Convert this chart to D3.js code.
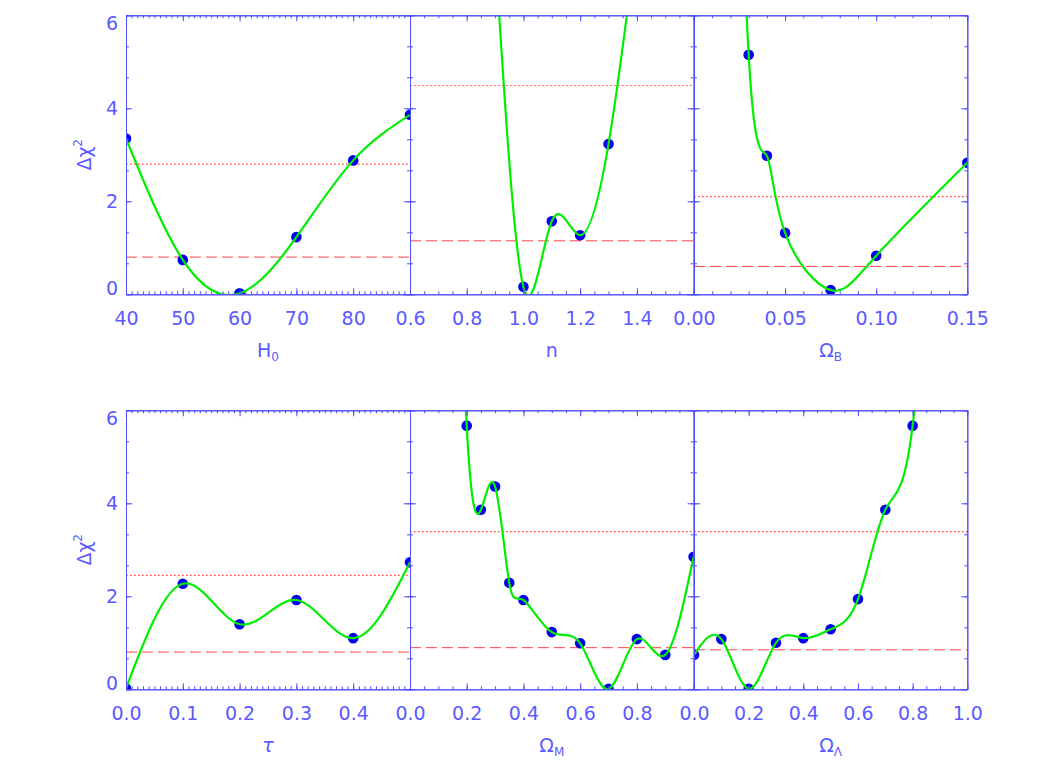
<!DOCTYPE html>
<html>
<head>
<meta charset="utf-8">
<script src="https://cdn.jsdelivr.net/npm/d3@7"></script>
<style>
  html, body { margin: 0; padding: 0; background: #fff; }
  svg { display: block; }
  text { font-family: "DejaVu Sans", sans-serif; }
</style>
</head>
<body>
<svg id="chart" width="1052" height="775"></svg>
<script>
// ---------------- data ----------------
// top row: H0, n, Omega_B
const h0X = [40, 50, 60, 70, 80, 90];
const h0Y = [3.35, 0.74, 0.02, 1.23, 2.88, 3.86];
const nX = [0.9, 1.0, 1.1, 1.2, 1.3, 1.4];
const nY = [7.4, 0.16, 1.57, 1.27, 3.23, 7.7];
const obX = [0.02, 0.03, 0.04, 0.05, 0.075, 0.10, 0.15];
const obY = [18, 5.15, 2.98, 1.32, 0.09, 0.83, 2.83];
// bottom row: tau, Omega_M, Omega_Lambda
const tauX = [0.0, 0.1, 0.2, 0.3, 0.4, 0.5];
const tauY = [0.02, 2.27, 1.40, 1.92, 1.10, 2.73];
const omX = [0.15, 0.2, 0.25, 0.3, 0.35, 0.4, 0.5, 0.6, 0.7, 0.8, 0.9, 1.0];
const omY = [15, 5.67, 3.86, 4.36, 2.29, 1.92, 1.23, 0.99, 0.01, 1.08, 0.74, 2.85];
const olX = [0.0, 0.1, 0.2, 0.3, 0.4, 0.5, 0.6, 0.7, 0.8, 0.9];
const olY = [0.74, 1.08, 0.01, 1.00, 1.10, 1.29, 1.94, 3.86, 5.67, 14];

// confidence levels (dotted = upper, dashed = lower)
const dottedLevels = [2.80, 4.49, 2.10, 2.45, 3.39, 3.39];
const dashedLevels = [0.80, 1.15, 0.60, 0.80, 0.895, 0.85];

// axes
const xDomains = [[40, 90], [0.6, 1.6], [0, 0.15], [0, 0.5], [0, 1], [0, 1]];
const xMajorSteps = [10, 0.2, 0.05, 0.1, 0.2, 0.2];
const xMinorSteps = [1, 0.05, 0.01, 0.01, 0.05, 0.05];
const xFormats = ["d", ".1f", ".2f", ".1f", ".1f", ".1f"];
const xTitles = [["H", "0"], ["n", ""], ["\u03A9", "B"], ["\u03C4", ""], ["\u03A9", "M"], ["\u03A9", "\u039B"]];
const yDomain = [0, 6];
const yMajorTicks = [0, 2, 4, 6];
const yMinorStep = 2 / 3;
const yTitle = ["\u0394\u03C7", "2"];

const seriesX = [h0X, nX, obX, tauX, omX, olX];
const seriesY = [h0Y, nY, obY, tauY, omY, olY];

// ---------------- layout ----------------
const rowTop = [15.3, 410.3];
const rowBottom = [294.3, 689.3];
const colLeft = [126, 410, 694];
const colRight = [410, 693.6, 967.3];

const AXIS = "#4d4dff";
const TEXT = "#5a5aff";

const svg = d3.select("#chart");

function steps(d0, d1, step) {
  const n = Math.round((d1 - d0) / step);
  return d3.range(0, n + 1).map(i => +(d0 + i * step).toFixed(6));
}

for (let p = 0; p < 6; p++) {
  const row = Math.floor(p / 3), col = p % 3;
  const x0 = colLeft[col], x1 = colRight[col];
  const yT = rowTop[row], yB = rowBottom[row];
  const x = d3.scaleLinear().domain(xDomains[p]).range([x0, x1]);
  const y = d3.scaleLinear().domain(yDomain).range([yB, yT]);

  const g = svg.append("g");
  const clipId = "clip" + p;
  svg.append("clipPath").attr("id", clipId).append("rect")
    .attr("x", x0).attr("y", yT).attr("width", x1 - x0).attr("height", yB - yT);

  // reference levels
  const plot = g.append("g").attr("clip-path", `url(#${clipId})`);
  plot.append("line")
    .attr("x1", x0).attr("x2", x1)
    .attr("y1", y(dottedLevels[p])).attr("y2", y(dottedLevels[p]))
    .attr("stroke", "#ff4545").attr("stroke-width", 1.1)
    .attr("stroke-dasharray", "1.6,2.4");
  plot.append("line")
    .attr("x1", x0).attr("x2", x1)
    .attr("y1", y(dashedLevels[p])).attr("y2", y(dashedLevels[p]))
    .attr("stroke", "#ff4040").attr("stroke-width", 1)
    .attr("stroke-dasharray", "11,5");

  const pts = seriesX[p].map((v, i) => [v, seriesY[p][i]]);

  // points
  plot.selectAll("circle").data(pts).enter().append("circle")
    .attr("cx", d => x(d[0])).attr("cy", d => y(d[1]))
    .attr("r", 5.3).attr("fill", "#0000f0");

  // curve
  const line = d3.line().x(d => x(d[0])).y(d => y(d[1])).curve(d3.curveNatural);
  plot.append("path").datum(pts).attr("d", line)
    .attr("fill", "none").attr("stroke", "#00ee00").attr("stroke-width", 2.2);

  // axes
  const fmt = d3.format(xFormats[p]);
  const majors = steps(xDomains[p][0], xDomains[p][1], xMajorSteps[p]);
  const minors = steps(xDomains[p][0], xDomains[p][1], xMinorSteps[p]);
  const showLast = col === 2;

  const styleAxis = sel => {
    sel.selectAll("path.domain").attr("stroke", AXIS).attr("stroke-width", 1);
    sel.selectAll(".tick line").attr("stroke", AXIS).attr("stroke-width", 1);
    sel.selectAll("text").attr("fill", TEXT).attr("font-size", 19)
      .attr("font-family", "DejaVu Sans, sans-serif");
  };

  // bottom major with labels
  const bAx = g.append("g").attr("transform", `translate(0,${yB})`)
    .call(d3.axisBottom(x).tickValues(majors).tickSizeInner(-6).tickSizeOuter(0)
      .tickPadding(17)
      .tickFormat((d, i) => (!showLast && i === majors.length - 1) ? "" : fmt(d)));
  styleAxis(bAx);
  g.append("g").attr("transform", `translate(0,${yB})`)
    .call(d3.axisBottom(x).tickValues(minors).tickSizeInner(-3).tickSizeOuter(0).tickFormat(""))
    .call(styleAxis);
  // top
  g.append("g").attr("transform", `translate(0,${yT})`)
    .call(d3.axisTop(x).tickValues(majors).tickSizeInner(-6).tickSizeOuter(0).tickFormat(""))
    .call(styleAxis);
  g.append("g").attr("transform", `translate(0,${yT})`)
    .call(d3.axisTop(x).tickValues(minors).tickSizeInner(-3).tickSizeOuter(0).tickFormat(""))
    .call(styleAxis);

  // left
  const yMinors = steps(yDomain[0], yDomain[1], yMinorStep);
  const lAx = g.append("g").attr("transform", `translate(${x0},0)`)
    .call(d3.axisLeft(y).tickValues(yMajorTicks).tickSizeInner(-6).tickSizeOuter(0)
      .tickPadding(8).tickFormat(col === 0 ? d3.format("d") : ""));
  styleAxis(lAx);
  if (col === 0) {
    lAx.selectAll(".tick text").attr("dy", (d) => d === yDomain[0] ? "-0.0em" : d === yDomain[1] ? "0.75em" : "0.32em");
  }
  g.append("g").attr("transform", `translate(${x0},0)`)
    .call(d3.axisLeft(y).tickValues(yMinors).tickSizeInner(-3).tickSizeOuter(0).tickFormat(""))
    .call(styleAxis);
  // right
  g.append("g").attr("transform", `translate(${x1},0)`)
    .call(d3.axisRight(y).tickValues(yMajorTicks).tickSizeInner(-6).tickSizeOuter(0).tickFormat(""))
    .call(styleAxis);
  g.append("g").attr("transform", `translate(${x1},0)`)
    .call(d3.axisRight(y).tickValues(yMinors).tickSizeInner(-3).tickSizeOuter(0).tickFormat(""))
    .call(styleAxis);

  // x title
  const t = g.append("text")
    .attr("x", (x0 + x1) / 2).attr("y", yB + 63)
    .attr("text-anchor", "middle").attr("fill", TEXT).attr("font-size", 19)
    .attr("font-family", "DejaVu Serif, serif");
  t.append("tspan").text(xTitles[p][0])
    .attr("font-style", xTitles[p][0] === "\u03C4" ? "italic" : null);
  if (xTitles[p][1]) {
    t.append("tspan").text(xTitles[p][1]).attr("font-size", 12).attr("dy", 4);
  }

  // y title
  if (col === 0) {
    const yt = g.append("text")
      .attr("transform", `translate(91,${(yT + yB) / 2}) rotate(-90)`)
      .attr("text-anchor", "middle").attr("fill", TEXT).attr("font-size", 19)
      .attr("font-family", "DejaVu Serif, serif");
    yt.append("tspan").text(yTitle[0]);
    yt.append("tspan").text(yTitle[1]).attr("font-size", 12).attr("dy", -9);
  }
}
</script>
</body>
</html>
